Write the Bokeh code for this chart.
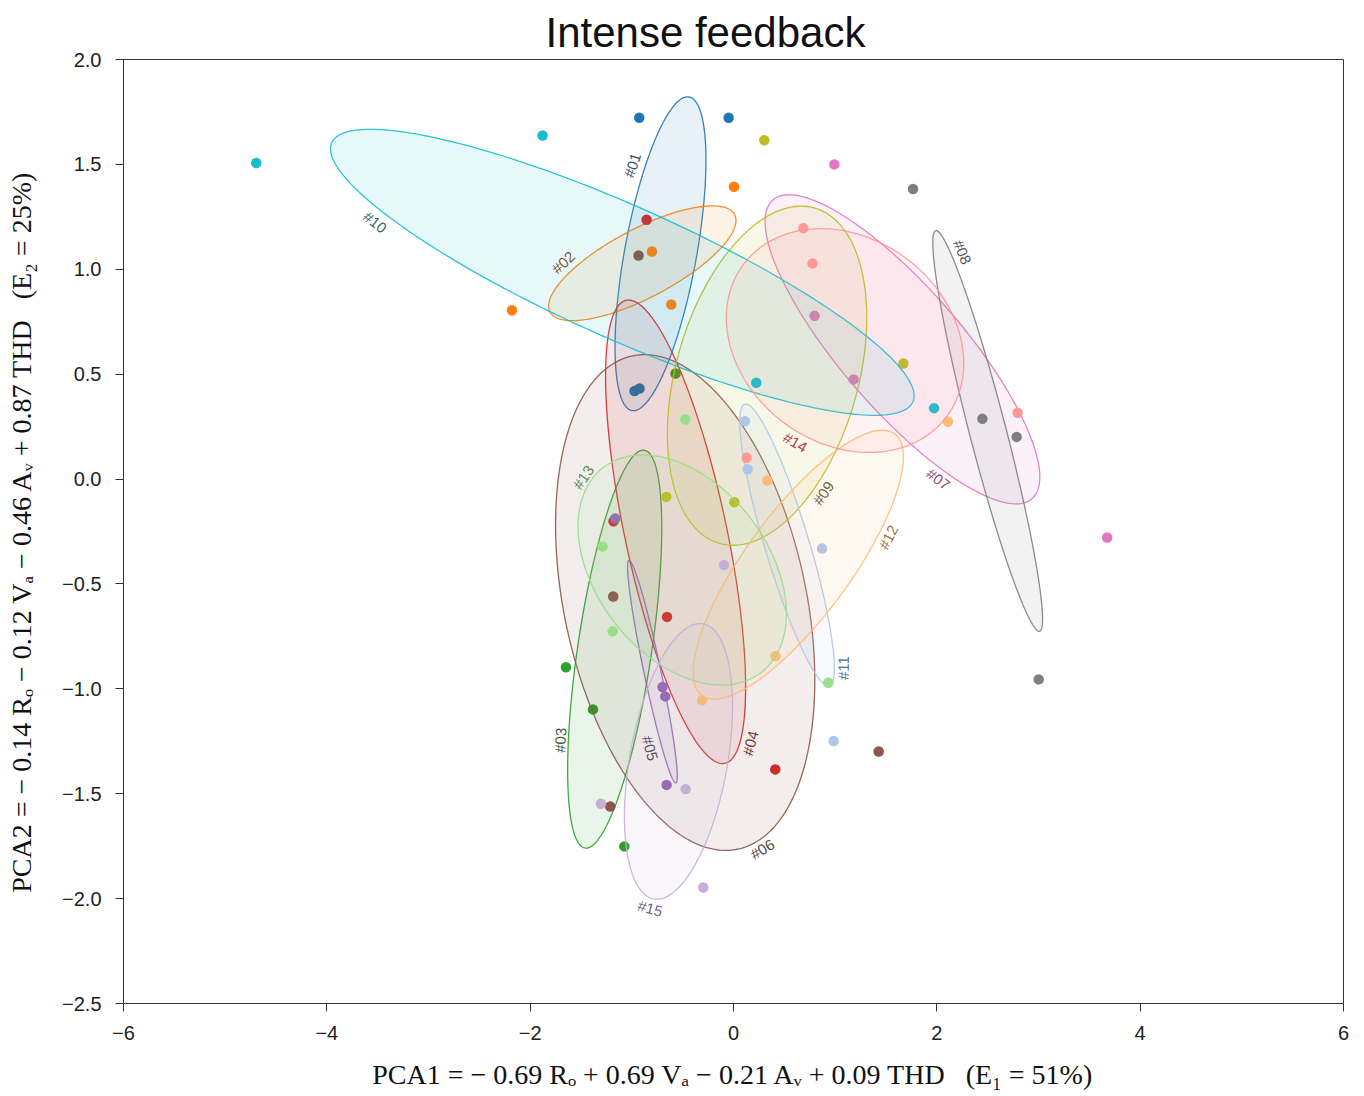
import colorsys
import numpy as np
from bokeh.plotting import figure
from bokeh.models import FixedTicker
from bokeh.core.properties import value
from bokeh.embed import file_html
from bokeh.resources import INLINE

# ---------------- data ----------------
GROUPS = ["#01", "#02", "#03", "#04", "#05", "#06", "#07", "#08",
          "#09", "#10", "#11", "#12", "#13", "#14", "#15"]

G01_PCA1 = [-0.927, -0.048, -0.973, -0.924]
G01_PCA2 = [1.722, 1.722, 0.420, 0.432]
G02_PCA1 = [-2.179, 0.005, -0.802, -0.612]
G02_PCA2 = [0.805, 1.393, 1.085, 0.832]
G03_PCA1 = [-0.570, -1.648, -1.382, -1.074]
G03_PCA2 = [0.503, -0.897, -1.098, -1.751]
G04_PCA1 = [-0.855, -1.180, -0.654, 0.411]
G04_PCA2 = [1.236, -0.201, -0.657, -1.384]
G05_PCA1 = [-1.163, -0.698, -0.671, -0.658]
G05_PCA2 = [-0.188, -0.991, -1.036, -1.458]
G06_PCA1 = [-0.934, -1.183, -1.212, 1.428]
G06_PCA2 = [1.066, -0.560, -1.561, -1.299]
G07_PCA1 = [0.992, 0.798, 1.182, 3.675]
G07_PCA2 = [1.500, 0.778, 0.475, -0.279]
G08_PCA1 = [1.766, 2.448, 2.785, 3.002]
G08_PCA2 = [1.383, 0.287, 0.201, -0.955]
G09_PCA1 = [0.303, 1.671, -0.661, 0.008]
G09_PCA2 = [1.615, 0.551, -0.085, -0.110]
G10_PCA1 = [-4.694, -1.878, 0.224, 1.973]
G10_PCA2 = [1.507, 1.638, 0.459, 0.338]
G11_PCA1 = [0.113, 0.139, 0.871, 0.985]
G11_PCA2 = [0.276, 0.047, -0.331, -1.249]
G12_PCA1 = [2.110, 0.333, 0.414, -0.310]
G12_PCA2 = [0.273, -0.007, -0.844, -1.055]
G13_PCA1 = [-0.474, -1.288, -1.189, 0.933]
G13_PCA2 = [0.284, -0.321, -0.726, -0.971]
G14_PCA1 = [0.687, 0.778, 0.129, 2.795]
G14_PCA2 = [1.196, 1.028, 0.101, 0.316]
G15_PCA1 = [-0.093, -1.304, -0.471, -0.297]
G15_PCA2 = [-0.410, -1.548, -1.478, -1.947]

PCA1 = [G01_PCA1, G02_PCA1, G03_PCA1, G04_PCA1, G05_PCA1, G06_PCA1, G07_PCA1, G08_PCA1,
        G09_PCA1, G10_PCA1, G11_PCA1, G12_PCA1, G13_PCA1, G14_PCA1, G15_PCA1]
PCA2 = [G01_PCA2, G02_PCA2, G03_PCA2, G04_PCA2, G05_PCA2, G06_PCA2, G07_PCA2, G08_PCA2,
        G09_PCA2, G10_PCA2, G11_PCA2, G12_PCA2, G13_PCA2, G14_PCA2, G15_PCA2]

X_TICKS = [-6, -4, -2, 0, 2, 4, 6]
Y_TICKS = [-2.5, -2.0, -1.5, -1.0, -0.5, 0.0, 0.5, 1.0, 1.5, 2.0]

TITLE = "Intense feedback"
NB = "\u00a0"
X_LABEL = f"PCA1 = \u2212 0.69 R\u2092 + 0.69 V\u2090 \u2212 0.21 A\u1d65 + 0.09 THD{NB*3}(E\u2081 = 51%)"
Y_LABEL = f"PCA2 = \u2212 0.14 R\u2092 \u2212 0.12 V\u2090 \u2212 0.46 A\u1d65 + 0.87 THD{NB*3}(E\u2082 = 25%)"

# ---------------- style ----------------
COLORS = ["#1f77b4", "#ff7f0e", "#2ca02c", "#d62728", "#9467bd", "#8c564b", "#e377c2",
          "#7f7f7f", "#bcbd22", "#17becf", "#aec7e8", "#ffbb78", "#98df8a", "#ff9896", "#c5b0d5"]

# approximate spot (data units) next to each ellipse where its name is written
LABEL_SPOTS = {
    "#01": (-0.996, 1.496), "#02": (-1.675, 1.033), "#03": (-1.704, -1.245),
    "#04": (0.165, -1.259), "#05": (-0.819, -1.283), "#06": (0.283, -1.764),
    "#07": (2.015, 0.000), "#08": (2.251, 1.082), "#09": (0.884, -0.067),
    "#10": (-3.525, 1.225), "#11": (1.080, -0.901), "#12": (1.523, -0.277),
    "#13": (-1.478, 0.009), "#14": (0.608, 0.176), "#15": (-0.819, -2.046),
}

W, H = 1364, 1096
BL, BR, BT, BB = 123, 21, 59, 93
XR = (-6, 6)
YR = (-2.5, 2.0)
SX = (W - BL - BR) / (XR[1] - XR[0])
SY = (H - BT - BB) / (YR[1] - YR[0])


def darker(hexcol, lf=0.5, sf=0.7):
    r, g, b = (int(hexcol[i:i + 2], 16) / 255 for i in (1, 3, 5))
    h, l, s = colorsys.rgb_to_hls(r, g, b)
    r, g, b = colorsys.hls_to_rgb(h, l * lf, s * sf)
    return "#%02x%02x%02x" % (int(r * 255), int(g * 255), int(b * 255))


def cov_ellipse(xs, ys, n_std=1.0, n=240):
    x = np.asarray(xs, float)
    y = np.asarray(ys, float)
    c = np.cov(x, y)
    vals, vecs = np.linalg.eigh(c)
    a, b = n_std * np.sqrt(vals[1]), n_std * np.sqrt(vals[0])
    v1, v2 = vecs[:, 1], vecs[:, 0]
    t = np.linspace(0, 2 * np.pi, n, endpoint=False)
    cx, cy = x.mean(), y.mean()
    ex = cx + a * np.cos(t) * v1[0] + b * np.sin(t) * v2[0]
    ey = cy + a * np.cos(t) * v1[1] + b * np.sin(t) * v2[1]
    dx = -a * np.sin(t) * v1[0] + b * np.cos(t) * v2[0]
    dy = -a * np.sin(t) * v1[1] + b * np.cos(t) * v2[1]
    return ex, ey, dx, dy


p = figure(width=W, height=H, x_range=XR, y_range=YR, output_backend="svg",
           toolbar_location=None, min_border_left=BL, min_border_right=BR,
           min_border_top=BT, min_border_bottom=BB, background_fill_color="white",
           border_fill_color="white")
p.grid.visible = False
p.outline_line_color = "#333333"
p.outline_line_width = 1

p.title.text = TITLE
p.title.text_font = "Liberation Sans"
p.title.text_font_size = "42px"
p.title.text_font_style = "normal"
p.title.text_color = "#111111"
p.title.align = "left"
p.title.offset = 422
p.title.standoff = 6
p.title.vertical_align = "middle"

p.xaxis.ticker = FixedTicker(ticks=X_TICKS)
p.yaxis.ticker = FixedTicker(ticks=Y_TICKS)
p.xaxis.major_label_overrides = {t: (f"{t}".replace("-", "\u2212")) for t in X_TICKS}
p.yaxis.major_label_overrides = {t: (f"{t:.1f}".replace("-", "\u2212")) for t in Y_TICKS}
for ax in (p.xaxis, p.yaxis):
    ax.axis_line_color = "#333333"
    ax.major_tick_line_color = "#333333"
    ax.major_tick_out = 8
    ax.major_tick_in = 0
    ax.minor_tick_line_color = None
    ax.major_label_text_font = "Liberation Sans"
    ax.major_label_text_font_size = "20px"
    ax.major_label_text_color = "#222222"
    ax.major_label_standoff = 14
    ax.axis_label_text_font = "Liberation Serif"
    ax.axis_label_text_font_size = "28px"
    ax.axis_label_text_font_style = "normal"
    ax.axis_label_text_color = "#111111"
p.xaxis.axis_label = X_LABEL
p.yaxis.axis_label = Y_LABEL
p.xaxis.axis_label_standoff = 16
p.yaxis.axis_label_standoff = 22

lab_x, lab_y, lab_t, lab_a, lab_c = [], [], [], [], []
for name, xs, ys, col in zip(GROUPS, PCA1, PCA2, COLORS):
    p.scatter(xs, ys, size=10.5, fill_color=col, line_color=None)
    ex, ey, dx, dy = cov_ellipse(xs, ys)
    p.patch(list(ex), list(ey), fill_color=col, fill_alpha=0.1,
            line_color=col, line_alpha=0.9, line_width=1.3)
    hx, hy = LABEL_SPOTS[name]
    d = ((ex - hx) * SX) ** 2 + ((ey - hy) * SY) ** 2
    i = int(np.argmin(d))
    ang = np.arctan2(dy[i] * SY, dx[i] * SX)
    if ang > np.pi / 2:
        ang -= np.pi
    elif ang <= -np.pi / 2:
        ang += np.pi
    lab_x.append(hx)
    lab_y.append(hy)
    lab_t.append(name)
    lab_a.append(float(ang))
    lab_c.append(darker(col))

p.text(x=lab_x, y=lab_y, text=lab_t, angle=lab_a, text_color=lab_c,
       text_font=value("Liberation Sans"), text_font_size="15px",
       text_align="center", text_baseline="middle", text_alpha=0.9)

open("out.html", "w").write(file_html(p, INLINE))
